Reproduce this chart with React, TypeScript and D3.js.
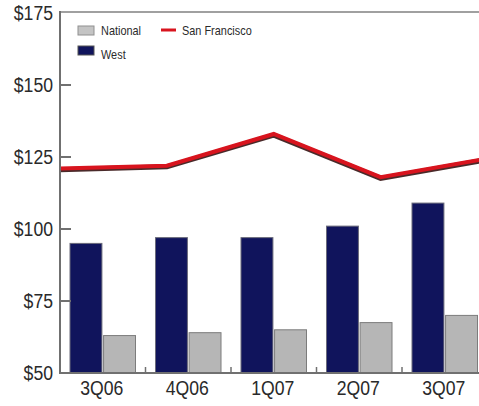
import React from "react";
import * as d3 from "d3";

// Quarterly average values by region
const categories = ["3Q06", "4Q06", "1Q07", "2Q07", "3Q07"];
const westValues = [95, 97, 97, 101, 109];
const nationalValues = [63, 64, 65, 67.5, 70];
const sanFranciscoValues = [121, 122, 133, 118, 124.5];
const yTicks = [50, 75, 100, 125, 150, 175];

const W = 479;
const H = 406;
const left = 60;
const right = 487.5;
const top = 13;
const bottom = 373;

const FONT = "'Liberation Sans', Arial, sans-serif";
const SQUEEZE = 0.84;

// Text drawn with a horizontally condensed face
function NarrowText(props: {
  x: number;
  y: number;
  anchor?: "start" | "middle" | "end";
  size: number;
  baseline?: string;
  children: React.ReactNode;
}) {
  return (
    <text
      transform={`translate(${props.x},${props.y}) scale(${SQUEEZE},1)`}
      textAnchor={props.anchor || "start"}
      dominantBaseline={props.baseline}
      fontFamily={FONT}
      fontSize={props.size}
      fill="#2a2a2a"
    >
      {props.children}
    </text>
  );
}

export default function App() {
  const y = d3.scaleLinear().domain([50, 175]).range([bottom, top]);
  const x = d3.scaleBand<string>().domain(categories).range([left, right]);
  const bw = x.bandwidth();
  const inner = d3
    .scaleBand<string>()
    .domain(["West", "National"])
    .range([10, bw - 10])
    .paddingInner(0.05);
  const xLine = d3.scalePoint<string>().domain(categories).range([left, right]);

  const line = d3
    .line<number>()
    .x((_, i) => xLine(categories[i]) as number)
    .y((d) => y(d));
  const linePath = line(sanFranciscoValues) || "";

  return (
    <svg
      width={W}
      height={H}
      style={{ position: "absolute", left: 0, top: 0, display: "block", background: "#fff" }}
    >
      {/* top frame */}
      <line x1={left} x2={W} y1={top - 1} y2={top - 1} stroke="#a0a0a0" strokeWidth={2} />

      {/* bars */}
      {categories.map((c, i) => {
        const x0 = x(c) as number;
        return (
          <g key={c}>
            <rect
              x={x0 + (inner("West") as number)}
              y={y(westValues[i])}
              width={inner.bandwidth()}
              height={bottom - y(westValues[i])}
              fill="#10145c"
              stroke="#6a6a7a"
              strokeWidth={1}
            />
            <rect
              x={x0 + (inner("National") as number)}
              y={y(nationalValues[i])}
              width={inner.bandwidth()}
              height={bottom - y(nationalValues[i])}
              fill="#b6b6b6"
              stroke="#7c7c7c"
              strokeWidth={1}
            />
          </g>
        );
      })}

      {/* San Francisco line with dark edge */}
      <path d={linePath} fill="none" stroke="#4a2a2a" strokeWidth={5} transform="translate(0,1.2)" strokeLinejoin="miter" />
      <path d={linePath} fill="none" stroke="#d8141e" strokeWidth={4} strokeLinejoin="miter" />

      {/* y axis */}
      <line x1={left} x2={left} y1={top - 2} y2={bottom} stroke="#707070" strokeWidth={2} />
      {yTicks.map((t) => (
        <g key={t}>
          {t > 50 && t < 175 && (
            <line x1={left} x2={left + 11} y1={y(t)} y2={y(t)} stroke="#707070" strokeWidth={2} />
          )}
          <NarrowText x={53} y={y(t) + 1} anchor="end" baseline="middle" size={21}>
            {"$" + t}
          </NarrowText>
        </g>
      ))}

      {/* x axis */}
      <line x1={left - 1} x2={W} y1={bottom} y2={bottom} stroke="#707070" strokeWidth={2} />
      {categories.slice(1).map((c) => (
        <line
          key={c}
          x1={x(c) as number}
          x2={x(c) as number}
          y1={bottom - 6}
          y2={bottom}
          stroke="#707070"
          strokeWidth={1.5}
        />
      ))}
      {categories.map((c) => (
        <NarrowText key={c} x={(x(c) as number) + bw / 2 - 1} y={bottom + 22} anchor="middle" size={21}>
          {c}
        </NarrowText>
      ))}

      {/* legend */}
      <rect x={78} y={26} width={16} height={9} fill="#c4c4c4" stroke="#909090" strokeWidth={1} />
      <NarrowText x={101} y={35} size={13}>National</NarrowText>
      <line x1={161} x2={176} y1={30} y2={30} stroke="#d8141e" strokeWidth={3} />
      <NarrowText x={182} y={35} size={13}>San Francisco</NarrowText>
      <rect x={78} y={46} width={16} height={9} fill="#10145c" stroke="#555" strokeWidth={1} />
      <NarrowText x={101} y={59} size={13}>West</NarrowText>
    </svg>
  );
}
